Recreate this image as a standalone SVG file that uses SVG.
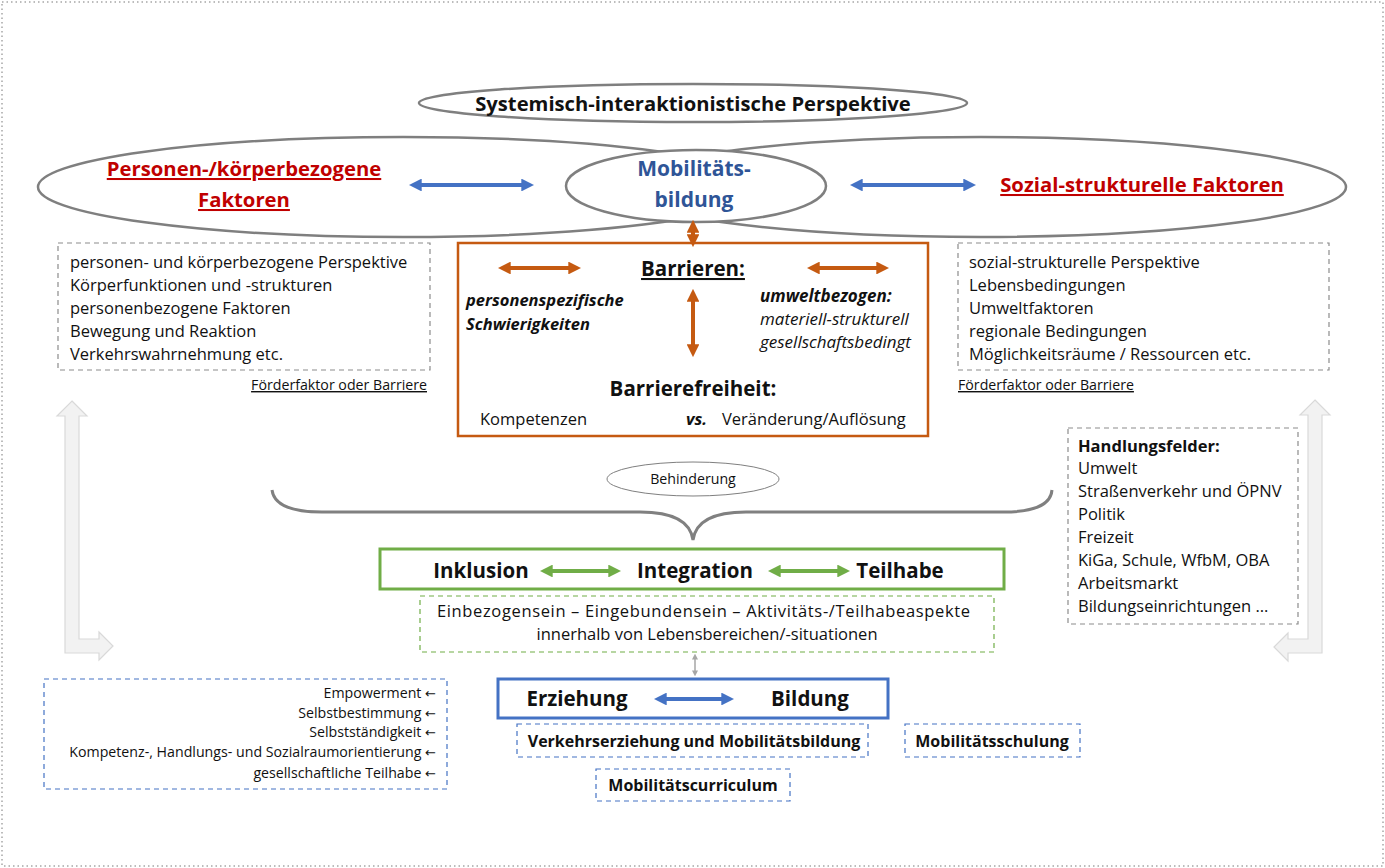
<svg xmlns="http://www.w3.org/2000/svg" width="1385" height="868" viewBox="0 0 1385 868">
<style>
text{font-family:"Open Sans","Noto Sans","Liberation Sans",sans-serif;fill:#111}
.b{font-weight:bold}
.i{font-style:italic}
.red{fill:#C00000;font-weight:bold;font-size:20.3px;text-decoration:underline}
.blu{fill:#2F5597;font-weight:bold;font-size:21px}
.t16{font-size:16.5px}
.ti{font-size:17px}
.t14{font-size:14.2px}
.t20{font-size:20.5px;font-weight:bold}
.arr{font-family:"DejaVu Sans",sans-serif;font-size:13px}
.gdash{fill:#fff;stroke:#8C8C8C;stroke-width:1.2;stroke-dasharray:5 4}
.bdash{fill:#fff;stroke:#4472C4;stroke-width:1.2;stroke-dasharray:5 4}
.grdash{fill:#fff;stroke:#70AD47;stroke-width:1.2;stroke-dasharray:5 4}
.ell{fill:none;stroke:#7F7F7F;stroke-width:2.5}
.ab{stroke:#4472C4;stroke-width:4;fill:none}
.ao{stroke:#C55A11;stroke-width:4;fill:none}
.ag{stroke:#70AD47;stroke-width:4;fill:none}
.lgarrow{fill:#F2F2F2;stroke:#D9D9D9;stroke-width:1.2}
</style>
<defs>
<marker id="mb" viewBox="0 0 10 10" refX="6" refY="5" markerWidth="3.2" markerHeight="3.2" orient="auto-start-reverse"><path d="M0,0L10,5L0,10z" fill="#4472C4"/></marker>
<marker id="mo" viewBox="0 0 10 10" refX="6" refY="5" markerWidth="3.2" markerHeight="3.2" orient="auto-start-reverse"><path d="M0,0L10,5L0,10z" fill="#C55A11"/></marker>
<marker id="mg" viewBox="0 0 10 10" refX="6" refY="5" markerWidth="3.2" markerHeight="3.2" orient="auto-start-reverse"><path d="M0,0L10,5L0,10z" fill="#70AD47"/></marker>
<marker id="mgr" viewBox="0 0 10 10" refX="6" refY="5" markerWidth="4" markerHeight="4" orient="auto-start-reverse"><path d="M0,0L10,5L0,10z" fill="#A6A6A6"/></marker>
</defs>
<rect x="2" y="2" width="1381" height="864" fill="#fff" stroke="#A6A6A6" stroke-width="1.5" stroke-dasharray="1.5 3"/>

<g id="perspektive">
<ellipse class="ell" cx="693" cy="103" rx="274" ry="19"/>
<text class="b" x="693" y="111" font-size="20.2" text-anchor="middle">Systemisch-interaktionistische Perspektive</text>
</g>

<g id="personen">
<ellipse class="ell" cx="403" cy="187" rx="365" ry="50"/>
<text class="red" x="244" y="176" text-anchor="middle">Personen-/körperbezogene</text>
<text class="red" x="244" y="207" text-anchor="middle">Faktoren</text>
</g>
<g id="sozial">
<ellipse class="ell" cx="981" cy="187" rx="365" ry="50"/>
<text class="red" x="1142" y="192" text-anchor="middle">Sozial-strukturelle Faktoren</text>
</g>
<g id="mobilitaet">
<ellipse cx="696" cy="186" rx="130" ry="36" fill="#fff" stroke="#7F7F7F" stroke-width="2.5"/>
<text class="blu" x="694" y="176" text-anchor="middle">Mobilitäts-</text>
<text class="blu" x="694" y="207" text-anchor="middle">bildung</text>
</g>

<g id="barrieren">
<rect x="458" y="243" width="470" height="193" fill="#fff" stroke="#C55A11" stroke-width="2.5"/>
<text class="t20" x="693" y="276" text-anchor="middle" text-decoration="underline">Barrieren:</text>
<text class="b i t16" x="466" y="306">personenspezifische</text>
<text class="b i t16" x="466" y="330">Schwierigkeiten</text>
<text class="b i ti" x="760" y="302">umweltbezogen:</text>
<text class="i ti" x="760" y="325">materiell-strukturell</text>
<text class="i ti" x="760" y="348">gesellschaftsbedingt</text>
<text class="t20" x="693" y="396" text-anchor="middle">Barrierefreiheit:</text>
<text class="t16" x="480" y="425">Kompetenzen</text>
<text class="b i t16" x="686" y="425">vs.</text>
<text class="t16" x="722" y="425">Veränderung/Auflösung</text>
</g>

<g id="personen-liste">
<rect class="gdash" x="58" y="243" width="372" height="127"/>
<text class="t16" x="70" y="268">personen- und körperbezogene Perspektive</text>
<text class="t16" x="70" y="291">Körperfunktionen und -strukturen</text>
<text class="t16" x="70" y="314">personenbezogene Faktoren</text>
<text class="t16" x="70" y="337">Bewegung und Reaktion</text>
<text class="t16" x="70" y="360">Verkehrswahrnehmung etc.</text>
<text class="t14" x="427" y="390" text-anchor="end" text-decoration="underline">Förderfaktor oder Barriere</text>
</g>

<g id="sozial-liste">
<rect class="gdash" x="958" y="243" width="371" height="127"/>
<text class="t16" x="969" y="268">sozial-strukturelle Perspektive</text>
<text class="t16" x="969" y="291">Lebensbedingungen</text>
<text class="t16" x="969" y="314">Umweltfaktoren</text>
<text class="t16" x="969" y="337">regionale Bedingungen</text>
<text class="t16" x="969" y="360">Möglichkeitsräume / Ressourcen etc.</text>
<text class="t14" x="958" y="390" text-decoration="underline">Förderfaktor oder Barriere</text>
</g>

<g id="handlungsfelder">
<rect class="gdash" x="1068" y="428" width="230" height="196"/>
<text class="b t16" x="1078" y="452">Handlungsfelder:</text>
<text class="t16" x="1078" y="474">Umwelt</text>
<text class="t16" x="1078" y="497">Straßenverkehr und ÖPNV</text>
<text class="t16" x="1078" y="520">Politik</text>
<text class="t16" x="1078" y="543">Freizeit</text>
<text class="t16" x="1078" y="566">KiGa, Schule, WfbM, OBA</text>
<text class="t16" x="1078" y="589">Arbeitsmarkt</text>
<text class="t16" x="1078" y="612">Bildungseinrichtungen …</text>
</g>

<g id="behinderung">
<ellipse cx="693" cy="479" rx="86" ry="17" fill="#fff" stroke="#7F7F7F" stroke-width="1"/>
<text class="t14" x="693" y="484" text-anchor="middle">Behinderung</text>
</g>

<g id="inklusion">
<rect x="380" y="549" width="624" height="40" fill="#fff" stroke="#70AD47" stroke-width="3"/>
<text class="t20" x="481" y="578" text-anchor="middle">Inklusion</text>
<text class="t20" x="695" y="578" text-anchor="middle">Integration</text>
<text class="t20" x="900" y="578" text-anchor="middle">Teilhabe</text>
</g>

<g id="einbezogensein">
<rect class="grdash" x="420" y="596" width="574" height="56"/>
<text class="t16" x="437" y="617" textLength="533" lengthAdjust="spacing">Einbezogensein – Eingebundensein – Aktivitäts-/Teilhabeaspekte</text>
<text class="t16" x="707" y="640" text-anchor="middle">innerhalb von Lebensbereichen/-situationen</text>
</g>

<g id="erziehung">
<rect x="498" y="679" width="390" height="39" fill="#fff" stroke="#4472C4" stroke-width="3"/>
<text class="t20" x="577" y="706" text-anchor="middle">Erziehung</text>
<text class="t20" x="810" y="706" text-anchor="middle">Bildung</text>
</g>

<g id="verkehrserziehung">
<rect class="bdash" x="517" y="724" width="351" height="33"/>
<text class="b" x="694" y="747" font-size="16" text-anchor="middle">Verkehrserziehung und Mobilitätsbildung</text>
</g>
<g id="mobilitaetsschulung">
<rect class="bdash" x="905" y="724" width="175" height="33"/>
<text class="b" x="992" y="747" font-size="16" text-anchor="middle">Mobilitätsschulung</text>
</g>
<g id="curriculum">
<rect class="bdash" x="596" y="769" width="194" height="32"/>
<text class="b" x="693" y="791" font-size="16" text-anchor="middle">Mobilitätscurriculum</text>
</g>

<g id="ziele">
<rect class="bdash" x="44" y="679" width="403" height="110"/>
<text class="t14" x="436" y="698" text-anchor="end">Empowerment <tspan class="arr">←</tspan></text>
<text class="t14" x="436" y="718" text-anchor="end">Selbstbestimmung <tspan class="arr">←</tspan></text>
<text class="t14" x="436" y="737" text-anchor="end">Selbstständigkeit <tspan class="arr">←</tspan></text>
<text class="t14" x="436" y="757" text-anchor="end">Kompetenz-, Handlungs- und Sozialraumorientierung <tspan class="arr">←</tspan></text>
<text class="t14" x="436" y="778" text-anchor="end">gesellschaftliche Teilhabe <tspan class="arr">←</tspan></text>
</g>

<g id="connectors">
<line class="ab" x1="414" y1="185" x2="529" y2="185" marker-start="url(#mb)" marker-end="url(#mb)"/>
<line class="ab" x1="855" y1="185" x2="971" y2="185" marker-start="url(#mb)" marker-end="url(#mb)"/>
<line class="ao" x1="693" y1="225" x2="693" y2="242" marker-start="url(#mo)" marker-end="url(#mo)"/>
<line class="ao" x1="503" y1="268" x2="576" y2="268" marker-start="url(#mo)" marker-end="url(#mo)"/>
<line class="ao" x1="812" y1="268" x2="884" y2="268" marker-start="url(#mo)" marker-end="url(#mo)"/>
<line class="ao" x1="693" y1="294" x2="693" y2="352" marker-start="url(#mo)" marker-end="url(#mo)"/>
<line class="ag" x1="545" y1="571" x2="616" y2="571" marker-start="url(#mg)" marker-end="url(#mg)"/>
<line class="ag" x1="773" y1="571" x2="845" y2="571" marker-start="url(#mg)" marker-end="url(#mg)"/>
<line class="ab" x1="659" y1="699" x2="729" y2="699" marker-start="url(#mb)" marker-end="url(#mb)"/>
<line x1="695" y1="656" x2="695" y2="674" stroke="#A6A6A6" stroke-width="1.5" marker-start="url(#mgr)" marker-end="url(#mgr)"/>
<path d="M272,490 Q275,512 322,512 L640,512 Q689,512 693,540 Q697,512 746,512 L1004,512 Q1050,512 1052,490" fill="none" stroke="#808080" stroke-width="3"/>
<polygon class="lgarrow" points="72,401 87,416 79,416 79,639 99,639 99,632 113,646 99,660 99,653 65,653 65,416 57,416"/>
<polygon class="lgarrow" points="1315,400 1330,415 1322,415 1322,653 1288,653 1288,661 1274,647 1288,633 1288,639 1308,639 1308,415 1300,415"/>
</g>
</svg>
